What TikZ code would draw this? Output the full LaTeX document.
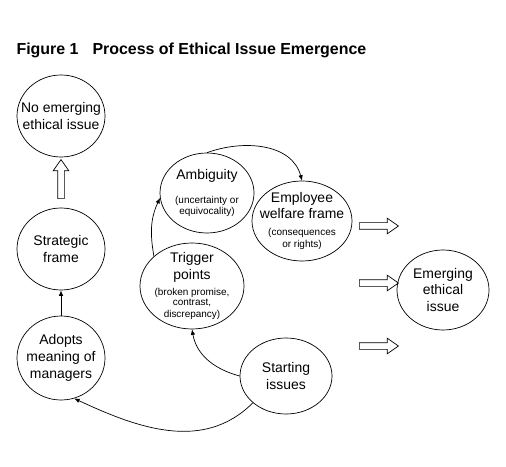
\documentclass[tikz,border=0pt]{standalone}
\usepackage{fontspec}
\setmainfont{Liberation Sans}
\usetikzlibrary{shapes.geometric,shapes.arrows,arrows.meta}
\newcommand{\smalltxt}[1]{{\fontsize{10}{12}\selectfont #1}}
\begin{document}
\begin{tikzpicture}[x=1bp,y=-1bp]
        \useasboundingbox (0,0) rectangle (506,467);
        \node[anchor=base west,font=\bfseries\fontsize{16}{19}\selectfont] (title) at (13,55)
          {Figure 1\hspace{14bp}Process of Ethical Issue Emergence};
        \begin{scope}[every node/.style={ellipse,draw,line width=0.7bp,inner sep=-12bp,align=center,
            font=\fontsize{14}{17}\selectfont}]
          \node[minimum width=88bp,minimum height=82bp] (noissue) at (61,116) {No emerging\\ethical issue};
          \node[minimum width=88bp,minimum height=82bp] (strat) at (61,249) {Strategic\\frame};
          \node[minimum width=88bp,minimum height=84bp] (adopt) at (61,358) {Adopts\\meaning of\\managers};
          \node[minimum width=94bp,minimum height=80bp] (amb) at (207,193)
            {Ambiguity\\[7bp]\smalltxt{(uncertainty or}\\[-5bp]\smalltxt{equivocality)}};
          \node[minimum width=100bp,minimum height=80bp] (emp) at (302,221)
            {Employee\\[-1bp]welfare frame\\[1bp]\smalltxt{(consequences}\\[-5bp]\smalltxt{or rights)}};
          \node[minimum width=104bp,minimum height=86bp] (trig) at (192,286)
            {Trigger\\points\\[-1bp]\smalltxt{(broken promise,}\\[-6bp]\smalltxt{contrast,}\\[-5bp]\smalltxt{discrepancy)}};
          \node[minimum width=92bp,minimum height=76bp] (start) at (286,376) {Starting\\issues};
          \node[minimum width=92bp,minimum height=80bp] (emerge) at (443,290) {Emerging\\ethical\\issue};
        \end{scope}
        \begin{scope}[every node/.style={single arrow,draw,line width=0.7bp,inner sep=3bp,
            minimum height=39bp,single arrow head extend=4.5bp,single arrow tip angle=70}]
          \node[shape border rotate=90] (up) at (61,181.5) {};
          \node (r1) at (376.5,226) {};
          \node (r2) at (376.5,283) {};
          \node (r3) at (376.5,346) {};
        \end{scope}
        \begin{scope}[every edge/.style={draw=black,line width=0.7bp,-{Latex[length=5.5bp,width=4.5bp]}}]
          \path (adopt) edge (strat);
          \path (trig.142) edge[out=100,in=245] (amb.186);
          \path (amb.north) edge[out=20,in=105] (emp.north);
          \path (start.west) edge[out=165,in=280] (trig.south);
          \path (start.219) edge[out=225,in=-25] (adopt.288);
        \end{scope}
  		\end{tikzpicture}
\end{document}
